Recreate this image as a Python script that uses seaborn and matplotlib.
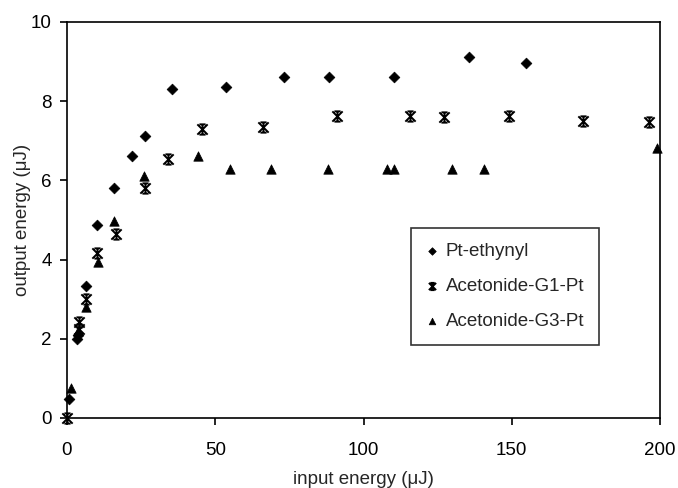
import matplotlib
matplotlib.use("Agg")
import matplotlib.pyplot as plt
from matplotlib.path import Path
import seaborn as sns
import pandas as pd

# ---- data ----
pt_x = [0.7, 3.5, 3.8, 6.3, 10.1, 16.0, 21.9, 26.3, 35.5, 53.7, 73.3, 88.4, 110.4, 135.5, 154.8]
pt_y = [0.48, 2.0, 2.1, 3.33, 4.87, 5.81, 6.62, 7.13, 8.30, 8.36, 8.62, 8.62, 8.62, 9.12, 8.96]

g1_x = [0.0, 3.9, 3.9, 6.3, 10.1, 16.4, 26.3, 34.0, 45.4, 66.2, 91.2, 115.7, 127.1, 149.2, 173.9, 196.2]
g1_y = [0.0, 2.25, 2.42, 3.00, 4.16, 4.64, 5.80, 6.53, 7.30, 7.36, 7.63, 7.63, 7.61, 7.63, 7.50, 7.47]

g3_x = [1.2, 3.8, 6.3, 10.3, 16.0, 26.1, 44.3, 55.0, 68.8, 88.1, 107.8, 110.4, 129.7, 140.7, 199.1]
g3_y = [0.76, 2.20, 2.81, 3.95, 4.98, 6.12, 6.62, 6.30, 6.30, 6.30, 6.30, 6.30, 6.30, 6.30, 6.81]

series_names = ["Pt-ethynyl", "Acetonide-G1-Pt", "Acetonide-G3-Pt"]
x_ticks = [0, 50, 100, 150, 200]
y_ticks = [0, 2, 4, 6, 8, 10]
x_label = "input energy (\u03bcJ)"
y_label = "output energy (\u03bcJ)"

sns.set_theme(style="ticks")
plt.rcParams["font.family"] = ["Liberation Sans", "DejaVu Sans"]
plt.rcParams["axes.linewidth"] = 1.2

fig = plt.figure(figsize=(6.78, 4.88), dpi=100)
ax = fig.add_axes([67 / 678, 70 / 488, 593 / 678, 396 / 488])

# star-like marker: X with vertical stroke and short bars
star_path = Path(
    [(-1, -1), (1, 1), (-1, 1), (1, -1), (0, -1), (0, 1),
     (-0.6, 1), (0.6, 1), (-0.6, -1), (0.6, -1)],
    [Path.MOVETO, Path.LINETO, Path.MOVETO, Path.LINETO, Path.MOVETO, Path.LINETO,
     Path.MOVETO, Path.LINETO, Path.MOVETO, Path.LINETO],
)

df_pt = pd.DataFrame({"x": pt_x, "y": pt_y})
df_g1 = pd.DataFrame({"x": g1_x, "y": g1_y})
df_g3 = pd.DataFrame({"x": g3_x, "y": g3_y})

sns.scatterplot(data=df_pt, x="x", y="y", ax=ax, marker="D", s=30, color="black",
                edgecolor="black", linewidth=0.5, clip_on=False, zorder=3,
                label=series_names[0])
sns.scatterplot(data=df_g1, x="x", y="y", ax=ax, marker=star_path, s=55, color="black",
                edgecolor="black", linewidth=1.4, clip_on=False, zorder=3,
                label=series_names[1])
sns.scatterplot(data=df_g3, x="x", y="y", ax=ax, marker="^", s=46, color="black",
                edgecolor="black", linewidth=0.5, clip_on=False, zorder=3,
                label=series_names[2])

ax.set_xlim(0, 200)
ax.set_ylim(0, 10)
ax.set_xticks(x_ticks)
ax.set_yticks(y_ticks)
ax.tick_params(direction="out", length=5, width=1.2, labelsize=13.5,
               colors="black")
ax.tick_params(axis="x", pad=12)
ax.tick_params(axis="y", pad=6)
for s in ax.spines.values():
    s.set_visible(True)
    s.set_color("black")
    s.set_linewidth(1.2)

ax.set_xlabel(x_label, fontsize=13.5, labelpad=9)
ax.set_ylabel(y_label, fontsize=13.5, labelpad=0)

leg = ax.legend(loc="upper left", bbox_to_anchor=(0.58, 0.48), frameon=True,
                fancybox=False, edgecolor="black", fontsize=13.5,
                handlelength=0.6, handletextpad=0.45, labelspacing=0.95,
                borderpad=0.8, markerscale=0.7, borderaxespad=0)
leg.get_frame().set_linewidth(1.2)

fig.savefig("out.png", dpi=100, facecolor="white")
